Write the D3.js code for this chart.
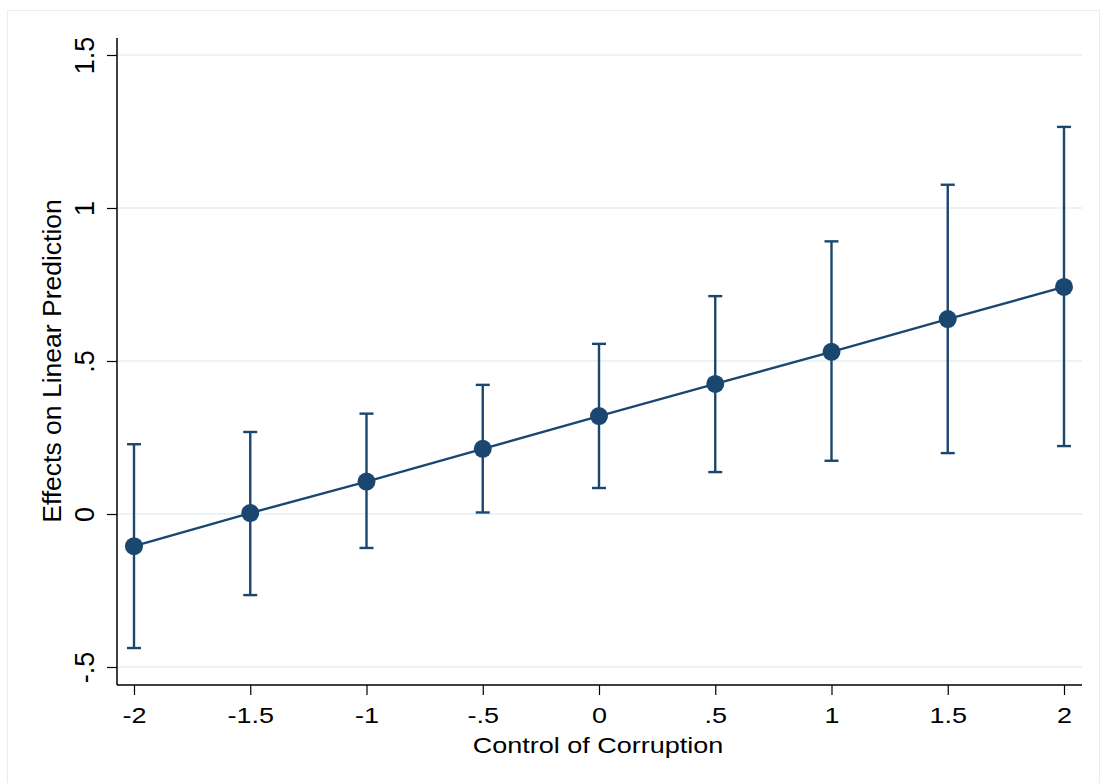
<!DOCTYPE html>
<html><head><meta charset="utf-8">
<script src="https://cdn.jsdelivr.net/npm/d3@7"></script>
<style>html,body{margin:0;padding:0;background:#fff;} svg{display:block;}</style>
</head><body>
<script>
const xValues = [-2, -1.5, -1, -0.5, 0, 0.5, 1, 1.5, 2];
const estimates = [-0.105, 0.003, 0.106, 0.213, 0.32, 0.425, 0.530, 0.637, 0.742];
const ciLower = [-0.438, -0.265, -0.111, 0.005, 0.085, 0.137, 0.174, 0.199, 0.222];
const ciUpper = [0.228, 0.268, 0.328, 0.422, 0.556, 0.712, 0.891, 1.076, 1.265];
const xTicks = [-2, -1.5, -1, -0.5, 0, 0.5, 1, 1.5, 2];
const yTicks = [-0.5, 0, 0.5, 1, 1.5];
const xTitle = "Control of Corruption";
const yTitle = "Effects on Linear Prediction";

const W = 1107, H = 783;
const navy = "#1a476f";
const fmt = v => { if (v === 0) return "0"; let s = String(v); return s.replace(/^(-?)0\./, "$1."); };

const svg = d3.select("body").append("svg").attr("width", W).attr("height", H);
svg.append("rect").attr("x", 7.5).attr("y", 10.5).attr("width", 1092).attr("height", 790)
  .attr("fill", "#fff").attr("stroke", "#ececec").attr("stroke-width", 1);

const plotL = 117, plotR = 1082, plotT = 38, plotB = 685;
const x = d3.scaleLinear().domain([-2, 2]).range([134, 1064]);
const y = d3.scaleLinear().domain([0, 1.5]).range([514, 55]);

// gridlines
svg.append("g").selectAll("line").data(yTicks).join("line")
  .attr("x1", plotL + 1).attr("x2", plotR)
  .attr("y1", d => y(d)).attr("y2", d => y(d))
  .attr("stroke", "#e6eff2").attr("stroke-width", 1.5);

// axes
const font = "'Liberation Sans', Arial, Helvetica, sans-serif";
const yAxis = d3.axisLeft(y).tickValues(yTicks).tickSize(10).tickPadding(8).tickFormat(fmt);
const gy = svg.append("g").attr("transform", `translate(${plotL},0)`).call(yAxis);
gy.select(".domain").attr("d", `M0,${plotT}V${plotB}`).attr("stroke", "#000").attr("stroke-width", 1.5);
gy.selectAll(".tick line").attr("stroke", "#000").attr("stroke-width", 1.2);
gy.selectAll(".tick text").attr("font-family", font).attr("font-size", 27).attr("fill", "#000")
  .attr("text-anchor", "middle").attr("x", null).attr("dy", null)
  .attr("transform", "translate(-23,0) rotate(-90)");

const xAxis = d3.axisBottom(x).tickValues(xTicks).tickSize(10).tickPadding(6).tickFormat(fmt);
const gx = svg.append("g").attr("transform", `translate(0,${plotB})`).call(xAxis);
gx.select(".domain").attr("d", `M${plotL},0H${plotR}`).attr("stroke", "#000").attr("stroke-width", 1.5);
gx.selectAll(".tick line").attr("stroke", "#000").attr("stroke-width", 1.2);
gx.selectAll(".tick text").attr("font-family", font).attr("font-size", 27).attr("fill", "#000")
  .attr("y", 0).attr("dy", null).attr("transform", "translate(0,38) scale(1,0.82)");

// titles
svg.append("text").attr("transform", "translate(598,753) scale(1,0.82)").attr("text-anchor", "middle")
  .attr("font-family", font).attr("font-size", 27).text(xTitle);
svg.append("text").attr("transform", `translate(61,361) rotate(-90)`).attr("text-anchor", "middle")
  .attr("font-family", font).attr("font-size", 26.5).text(yTitle);

const data = xValues.map((v, i) => ({x: v, est: estimates[i], lo: ciLower[i], hi: ciUpper[i]}));

// error bars
const eb = svg.append("g").attr("stroke", navy).attr("stroke-width", 2.4).attr("fill", "none");
eb.selectAll("line.v").data(data).join("line").attr("class", "v")
  .attr("x1", d => x(d.x)).attr("x2", d => x(d.x)).attr("y1", d => y(d.lo)).attr("y2", d => y(d.hi));
eb.selectAll("line.c1").data(data).join("line").attr("class", "c1")
  .attr("x1", d => x(d.x) - 7).attr("x2", d => x(d.x) + 7).attr("y1", d => y(d.lo)).attr("y2", d => y(d.lo));
eb.selectAll("line.c2").data(data).join("line").attr("class", "c2")
  .attr("x1", d => x(d.x) - 7).attr("x2", d => x(d.x) + 7).attr("y1", d => y(d.hi)).attr("y2", d => y(d.hi));

// connecting line
svg.append("path").datum(data)
  .attr("d", d3.line().x(d => x(d.x)).y(d => y(d.est)))
  .attr("fill", "none").attr("stroke", navy).attr("stroke-width", 2.4);

// markers
svg.append("g").selectAll("circle").data(data).join("circle")
  .attr("cx", d => x(d.x)).attr("cy", d => y(d.est)).attr("r", 9).attr("fill", navy);
</script>
</body></html>
